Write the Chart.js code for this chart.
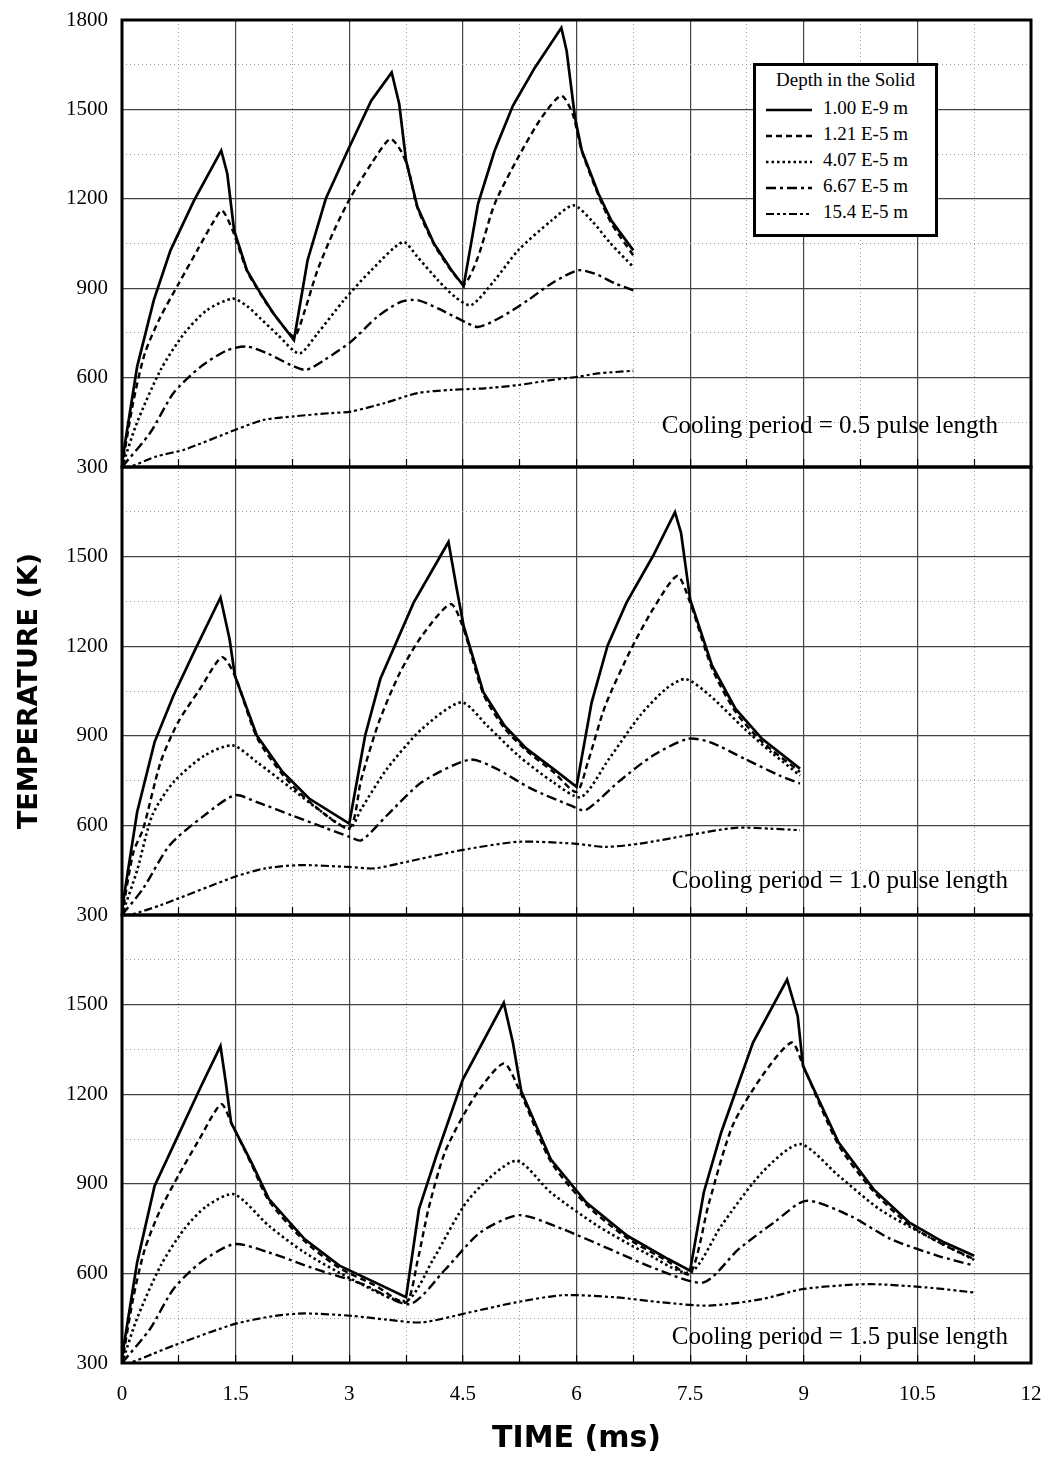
<!DOCTYPE html>
<html>
<head>
<meta charset="utf-8">
<script src="https://cdn.jsdelivr.net/npm/chart.js@4.4.0/dist/chart.umd.min.js"></script>
<style>
  body { margin: 0; background: #fff; }
  #page { position: relative; width: 1048px; height: 1458px; font-family: "Liberation Serif", serif; color: #000; }
  canvas { position: absolute; left: 0; }
  .note { position: absolute; font-size: 25px; line-height: 28px; white-space: nowrap; }
  #legend { position: absolute; left: 753px; top: 63px; width: 185px; height: 174px; box-sizing: border-box;
            border: 3px solid #000; background: #fff; font-size: 19px; }
  #legend .ttl { position: absolute; left: 0; right: 0; top: 2px; text-align: center; line-height: 24px; }
  #legend .row { position: absolute; left: 10px; height: 24px; line-height: 24px; white-space: nowrap; }
  #legend svg { vertical-align: middle; margin-right: 11px; }
</style>
</head>
<body>
<div id="page">
  <canvas id="topPanel" width="1048" height="482" style="top:0"></canvas>
  <canvas id="midPanel" width="1048" height="477" style="top:453px"></canvas>
  <canvas id="botPanel" width="1048" height="557" style="top:901px"></canvas>
  <div id="legend"><div class="ttl">Depth in the Solid</div></div>
  <div class="note" style="top:411px; right:50px">Cooling period = 0.5 pulse length</div>
  <div class="note" style="top:866px; right:40px">Cooling period = 1.0 pulse length</div>
  <div class="note" style="top:1322px; right:40px">Cooling period = 1.5 pulse length</div>
</div>
<script>
// depth labels and line styles
const depthLabels = ["1.00 E-9 m", "1.21 E-5 m", "4.07 E-5 m", "6.67 E-5 m", "15.4 E-5 m"];
const dashes = [[], [6, 4], [2.5, 3], [10, 4, 3, 4], [8, 3, 3, 3, 3, 3]];
const widths = [2.7, 2.4, 2.6, 2.4, 2.2];

const xTicks = [0, 1.5, 3, 4.5, 6, 7.5, 9, 10.5, 12];
const yTicks = [300, 600, 900, 1200, 1500, 1800];

// [time ms, temperature K] - cooling period = 0.5 pulse length
const top1 = [[0,315],[0.2,637],[0.42,860],[0.64,1027],[0.95,1194],[1.31,1362],[1.39,1284],[1.48,1094],[1.65,960],[1.83,882],[2.0,815],[2.27,726],[2.45,994],[2.69,1200],[2.98,1362],[3.29,1529],[3.56,1624],[3.66,1518],[3.75,1328],[3.9,1172],[4.12,1049],[4.35,960],[4.51,907],[4.7,1183],[4.92,1362],[5.16,1512],[5.45,1640],[5.8,1774],[5.87,1696],[5.98,1473],[6.07,1362],[6.29,1217],[6.46,1127],[6.75,1027]];
const top2 = [[0,300],[0.15,520],[0.3,680],[0.5,800],[0.75,916],[1.0,1030],[1.2,1120],[1.32,1161],[1.46,1094],[1.65,958],[1.83,880],[2.0,815],[2.27,738],[2.4,815],[2.58,960],[2.8,1094],[3.02,1206],[3.29,1317],[3.54,1401],[3.68,1362],[3.78,1300],[3.9,1170],[4.12,1047],[4.35,958],[4.52,914],[4.7,1005],[4.92,1183],[5.23,1339],[5.54,1473],[5.8,1546],[5.95,1484],[6.07,1360],[6.29,1212],[6.46,1118],[6.75,1010]];
const top3 = [[0,300],[0.2,450],[0.51,626],[0.82,748],[1.12,826],[1.46,865],[1.65,840],[1.83,798],[2.05,745],[2.34,681],[2.58,748],[2.93,860],[3.29,960],[3.71,1055],[3.9,1005],[4.17,927],[4.4,870],[4.61,843],[4.92,927],[5.23,1027],[5.67,1127],[5.96,1178],[6.2,1127],[6.45,1050],[6.75,971]];
const top4 = [[0,300],[0.37,414],[0.68,548],[1.04,637],[1.39,692],[1.65,704],[1.92,681],[2.23,642],[2.43,626],[2.67,659],[3.02,720],[3.37,804],[3.68,854],[3.9,860],[4.17,832],[4.48,793],[4.7,770],[5.01,804],[5.36,860],[5.67,916],[6.02,960],[6.24,949],[6.51,916],[6.75,893]];
const top5 = [[0,300],[0.1,300],[0.46,336],[0.82,358],[1.5,425],[1.87,458],[2.27,470],[2.76,481],[3.02,486],[3.46,514],[3.9,548],[4.35,559],[4.79,564],[5.23,575],[5.67,592],[6.02,603],[6.29,614],[6.75,623]];

// cooling period = 1.0 pulse length
const mid1 = [[0,320],[0.2,645],[0.43,879],[0.68,1035],[0.95,1180],[1.3,1363],[1.42,1224],[1.49,1101],[1.78,901],[2.12,779],[2.47,690],[3.0,606],[3.21,901],[3.41,1090],[3.85,1346],[4.31,1549],[4.42,1391],[4.51,1268],[4.77,1046],[5.05,934],[5.34,857],[5.69,790],[6.0,729],[6.2,1012],[6.41,1202],[6.66,1346],[7.01,1502],[7.3,1649],[7.38,1580],[7.5,1357],[7.79,1135],[8.1,990],[8.45,890],[8.95,790]];
const mid2 = [[0,300],[0.15,510],[0.28,589],[0.51,812],[0.74,945],[1.03,1057],[1.32,1163],[1.49,1101],[1.78,895],[2.12,770],[2.47,680],[3.0,592],[3.16,756],[3.39,945],[3.67,1112],[3.96,1235],[4.34,1341],[4.51,1257],[4.77,1040],[5.05,925],[5.34,850],[5.69,780],[6.0,712],[6.15,812],[6.38,1001],[6.72,1190],[7.01,1324],[7.33,1435],[7.5,1346],[7.79,1125],[8.1,980],[8.45,880],[8.95,779]];
const mid3 = [[0,300],[0.2,450],[0.4,634],[0.68,745],[1.09,834],[1.46,868],[1.78,812],[2.24,723],[2.58,656],[3.0,589],[3.16,656],[3.5,790],[3.96,923],[4.48,1012],[4.82,934],[5.23,834],[5.69,745],[6.06,695],[6.43,823],[6.84,968],[7.18,1057],[7.44,1090],[7.76,1035],[8.22,923],[8.57,845],[8.95,767]];
const mid4 = [[0,300],[0.28,389],[0.63,534],[1.09,634],[1.49,701],[1.78,678],[2.24,634],[2.7,590],[3.0,562],[3.16,550],[3.5,634],[3.96,745],[4.59,820],[4.94,790],[5.4,723],[5.92,667],[6.12,651],[6.55,745],[7.01,834],[7.47,890],[7.76,879],[8.22,823],[8.68,767],[8.95,740]];
const mid5 = [[0,300],[0.1,300],[0.51,333],[1.49,428],[1.89,456],[2.35,467],[2.98,461],[3.33,456],[3.67,473],[4.48,517],[5.23,545],[5.97,539],[6.38,528],[6.84,539],[7.47,567],[8.1,592],[8.56,589],[8.95,584]];

// cooling period = 1.5 pulse length
const bot1 = [[0,320],[0.2,637],[0.43,893],[0.78,1083],[1.05,1230],[1.3,1361],[1.37,1240],[1.44,1105],[1.71,971],[1.94,849],[2.41,715],[2.87,626],[3.34,570],[3.75,520],[3.92,815],[4.15,994],[4.5,1250],[5.04,1506],[5.16,1373],[5.27,1211],[5.66,982],[6.13,837],[6.67,726],[7.21,648],[7.5,609],[7.68,871],[7.91,1072],[8.33,1373],[8.78,1584],[8.92,1462],[8.99,1295],[9.46,1038],[9.92,882],[10.39,771],[10.85,704],[11.25,659]];
const bot2 = [[0,300],[0.15,520],[0.3,680],[0.5,810],[0.75,930],[1.0,1040],[1.31,1166],[1.45,1100],[1.71,965],[1.94,843],[2.41,708],[2.87,618],[3.34,560],[3.75,503],[3.9,640],[4.05,820],[4.27,1010],[4.66,1194],[5.04,1303],[5.24,1217],[5.66,975],[6.13,830],[6.67,718],[7.21,640],[7.5,598],[7.75,837],[8.06,1094],[8.45,1261],[8.84,1373],[9.0,1290],[9.46,1030],[9.92,875],[10.39,763],[10.85,695],[11.25,648]];
const bot3 = [[0,300],[0.2,450],[0.51,626],[0.82,748],[1.12,826],[1.48,865],[1.94,759],[2.41,670],[3.03,581],[3.75,508],[4.11,648],[4.58,849],[5.2,977],[5.66,871],[6.28,759],[6.9,670],[7.5,603],[7.91,759],[8.45,938],[8.95,1033],[9.46,927],[10.0,815],[10.62,726],[11.25,645]];
const bot4 = [[0,300],[0.37,414],[0.68,548],[1.04,637],[1.48,698],[1.94,670],[2.56,614],[3.18,564],[3.8,497],[4.27,614],[4.73,737],[5.24,795],[5.82,748],[6.44,681],[7.06,614],[7.68,570],[8.14,681],[8.61,771],[9.03,843],[9.61,793],[10.15,715],[10.77,659],[11.25,626]];
const bot5 = [[0,300],[0.1,300],[0.4,330],[0.7,360],[1.48,430],[2.02,458],[2.41,466],[3.03,458],[3.5,445],[3.96,436],[4.58,469],[5.2,503],[5.82,527],[6.51,520],[7.13,503],[7.75,492],[8.45,514],[9.0,548],[9.85,564],[10.62,553],[11.25,536]];

function isMajor(v, step) {
  return Math.abs(Math.round(v / step) * step - v) < 1e-6;
}

// thick frame round the plot area
const framePlugin = {
  id: "frame",
  afterDraw(chart) {
    const { ctx, chartArea: a } = chart;
    ctx.save();
    ctx.lineWidth = 3;
    ctx.strokeStyle = "#000";
    ctx.strokeRect(a.left, a.top, a.right - a.left, a.bottom - a.top);
    ctx.restore();
  },
};

const tickFont = { family: "Liberation Serif", size: 21 };

// scales ask for room for their end labels; the panels are placed by hand instead
function noPad(s) {
  s.paddingTop = 0;
  s.paddingBottom = 0;
  s.paddingLeft = 0;
  s.paddingRight = 0;
}

function makePanel(id, series, kind, padding) {
  const isBottom = kind === "bottom";
  const datasets = series.map((pts, i) => ({
    label: depthLabels[i],
    data: pts.map((p) => ({ x: p[0], y: p[1] })),
    borderColor: "#000",
    borderWidth: widths[i],
    borderDash: dashes[i],
    pointRadius: 0,
    tension: i === 0 ? 0 : 0.25,
    fill: false,
  }));

  return new Chart(document.getElementById(id), {
    type: "line",
    data: { datasets: datasets },
    plugins: [framePlugin],
    options: {
      responsive: false,
      animation: false,
      layout: { padding: padding },
      plugins: {
        legend: { display: false },
        tooltip: { enabled: false },
      },
      scales: {
        x: {
          type: "linear",
          min: 0,
          max: 12,
          afterFit: (s) => {
            s.height = isBottom ? 95 : 0;
            noPad(s);
          },
          ticks: {
            stepSize: 0.75,
            autoSkip: false,
            maxRotation: 0,
            display: isBottom,
            padding: 27,
            color: "#000",
            font: tickFont,
            callback: (v) => (xTicks.some((t) => Math.abs(t - v) < 1e-6) ? String(v) : ""),
          },
          grid: {
            drawTicks: true,
            tickLength: -8, // short marks pointing up into the panel
            tickColor: "#000",
            tickWidth: 1.2,
            tickBorderDash: [],
            color: (c) => (c.tick && isMajor(c.tick.value, 1.5) ? "#444" : "#9a9a9a"),
            lineWidth: (c) => (c.tick && isMajor(c.tick.value, 1.5) ? 1.2 : 1),
          },
          border: {
            display: false,
            dash: (c) => (c.tick && isMajor(c.tick.value, 1.5) ? [] : [1, 3]),
          },
          title: {
            display: isBottom,
            text: "TIME (ms)",
            color: "#000",
            font: { family: "DejaVu Sans", size: 30, weight: "bold" },
            padding: { top: 0, bottom: 1 },
          },
        },
        y: {
          min: 300,
          max: 1800,
          afterFit: (s) => {
            s.width = 122;
            noPad(s);
          },
          ticks: {
            stepSize: 150,
            autoSkip: false,
            padding: 14,
            color: "#000",
            font: tickFont,
            callback: (v) =>
              yTicks.includes(v) && (v < 1800 || kind === "top") ? String(v) : "",
          },
          grid: {
            drawTicks: false,
            color: (c) => (c.tick && isMajor(c.tick.value, 300) ? "#444" : "#9a9a9a"),
            lineWidth: (c) => (c.tick && isMajor(c.tick.value, 300) ? 1.2 : 1),
          },
          border: {
            display: false,
            dash: (c) => (c.tick && isMajor(c.tick.value, 300) ? [] : [1, 3]),
          },
          title: {
            display: kind === "middle",
            text: "TEMPERATURE (K)",
            color: "#000",
            font: { family: "DejaVu Sans", size: 27, weight: "bold" },
            padding: { top: 14, bottom: 0 },
          },
        },
      },
    },
  });
}

makePanel("topPanel", [top1, top2, top3, top4, top5], "top", { top: 20, bottom: 15, left: 0, right: 17 });
makePanel("midPanel", [mid1, mid2, mid3, mid4, mid5], "middle", { top: 14, bottom: 15, left: 0, right: 17 });
makePanel("botPanel", [bot1, bot2, bot3, bot4, bot5], "bottom", { top: 14, bottom: 0, left: 0, right: 17 });

// legend box with line samples
const legend = document.getElementById("legend");
depthLabels.forEach((lbl, i) => {
  const row = document.createElement("div");
  row.className = "row";
  row.style.top = 30 + i * 26 + "px";
  row.innerHTML =
    '<svg width="46" height="8"><line x1="0" y1="4" x2="46" y2="4" stroke="#000" stroke-width="' +
    widths[i] + '" stroke-dasharray="' + (dashes[i].length ? dashes[i].join(" ") : "none") +
    '"/></svg>' + lbl;
  legend.appendChild(row);
});
</script>
</body>
</html>
